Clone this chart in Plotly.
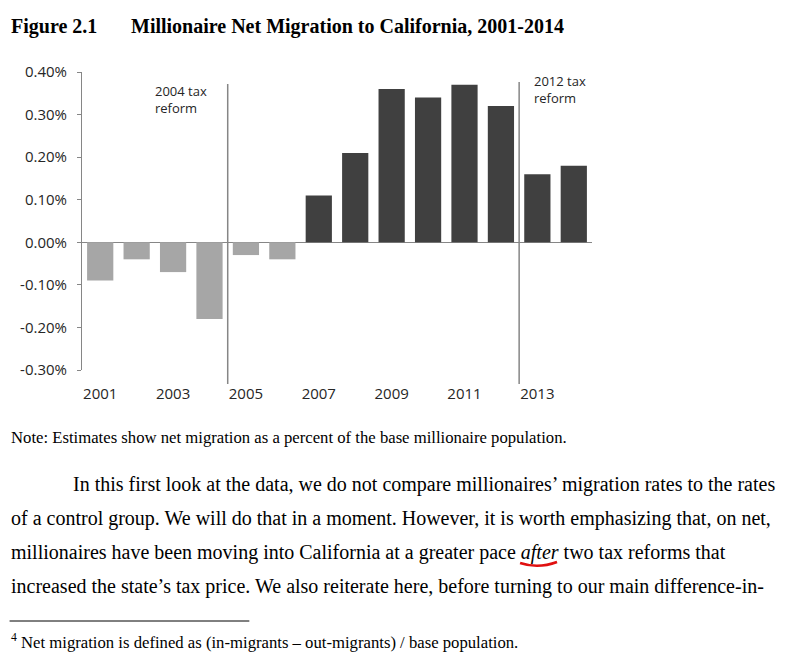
import plotly.graph_objects as go

years = [2001, 2002, 2003, 2004, 2005, 2006, 2007, 2008, 2009, 2010, 2011, 2012, 2013, 2014]
net_migration = [-0.0009, -0.0004, -0.0007, -0.0018, -0.0003, -0.0004, 0.0011, 0.0021,
                 0.0036, 0.0034, 0.0037, 0.0032, 0.0016, 0.0018]
tick_years = [2001, 2003, 2005, 2007, 2009, 2011, 2013]
y_ticks = [0.004, 0.003, 0.002, 0.001, 0.0, -0.001, -0.002, -0.003]
reform_years = [2004, 2012]
reform_labels = ["2004 tax<br>reform", "2012 tax<br>reform"]

title_fig = "Figure 2.1"
title_text = "Millionaire Net Migration to California, 2001-2014"
note_text = "Note: Estimates show net migration as a percent of the base millionaire population."
body_lines = [
    "In this first look at the data, we do not compare millionaires\u2019 migration rates to the rates",
    "of a control group. We will do that in a moment. However, it is worth emphasizing that, on net,",
    "millionaires have been moving into California at a greater pace <i>after</i> two tax reforms that",
    "increased the state\u2019s tax price. We also reiterate here, before turning to our main difference-in-",
]
footnote_text = "<sup>4</sup> Net migration is defined as (in-migrants \u2013 out-migrants) / base population."

OFF = 8  # page body margin
W, H = 791 - 2 * OFF, 663 - 2 * OFF
PL, PT, PW, PH = 81.5, 72, 510.5, 298   # plot area in page pixels
YMIN, YMAX = -0.003, 0.004
XMIN, XMAX = years[0] - 0.5, years[-1] + 0.5


def px(x):
    return (x - PL) / PW


def py(y):
    return (PT + PH - y) / PH


LIGHT = "#a6a6a6"
DARK = "#404040"
AXIS = "#868686"
CHART_FONT = "Open Sans"
DOC_FONT = "Liberation Serif"
TXT = "#262626"

colors = [LIGHT if v < 0 else DARK for v in net_migration]
ytext = [f"{v * 100:.2f}%" for v in y_ticks]

fig = go.Figure()
fig.add_trace(go.Bar(x=years, y=net_migration, marker=dict(color=colors, line=dict(width=0)),
                     width=0.72, showlegend=False, hoverinfo="skip"))

fig.update_layout(
    width=W, height=H,
    margin=dict(l=PL - OFF, r=W - (PL - OFF) - PW, t=PT - OFF, b=H - (PT - OFF) - PH, pad=0),
    paper_bgcolor="white", plot_bgcolor="white",
    font=dict(family=CHART_FONT, size=15, color=TXT),
    xaxis=dict(range=[XMIN, XMAX], tickvals=tick_years, ticktext=[str(y) for y in tick_years],
               showline=False, showgrid=False, zeroline=False, ticks="outside",
               ticklen=10, tickcolor="rgba(0,0,0,0)", tickfont=dict(size=15)),
    xaxis2=dict(range=[XMIN, XMAX], overlaying="x", anchor="free",
                position=(0 - YMIN) / (YMAX - YMIN),
                tickvals=[y - 0.5 for y in years] + [years[-1] + 0.5],
                showticklabels=False, ticks="outside", ticklen=4, tickcolor=AXIS,
                showline=True, linecolor=AXIS, linewidth=1, showgrid=False, zeroline=False),
    yaxis=dict(range=[YMIN, YMAX], tickvals=y_ticks, ticktext=ytext, showline=True,
               linecolor=AXIS, linewidth=1, ticks="outside", ticklen=4, tickcolor=AXIS,
               ticklabelstandoff=7,
               showgrid=False, zeroline=True, zerolinecolor=AXIS, zerolinewidth=1,
               tickfont=dict(size=15)),
)

# reform lines and labels
label_pos = {2004: (153, 99), 2012: (532, 89)}
line_top = {2004: 84, 2012: 82}
for yr, lab in zip(reform_years, reform_labels):
    xf = (yr + 0.5 - XMIN) / (XMAX - XMIN)
    fig.add_shape(type="line", xref="paper", yref="paper", x0=xf, x1=xf,
                  y0=py(line_top[yr]), y1=py(384), line=dict(color=AXIS, width=1.5))
    lx, ly = label_pos[yr]
    fig.add_annotation(xref="paper", yref="paper", x=px(lx), y=py(ly), text=lab,
                       showarrow=False, xanchor="left", yanchor="middle", align="left",
                       font=dict(family=CHART_FONT, size=13, color=TXT))

# document text
fig.add_annotation(xref="paper", yref="paper", x=px(8), y=py(27), text="<b>" + title_fig + "</b>",
                   showarrow=False, xanchor="left", yanchor="middle",
                   font=dict(family=DOC_FONT, size=20, color="black"))
fig.add_annotation(xref="paper", yref="paper", x=px(129), y=py(27), text="<b>" + title_text + "</b>",
                   showarrow=False, xanchor="left", yanchor="middle",
                   font=dict(family=DOC_FONT, size=20, color="black"))
fig.add_annotation(xref="paper", yref="paper", x=px(8), y=py(437), text=note_text,
                   showarrow=False, xanchor="left", yanchor="middle",
                   font=dict(family=DOC_FONT, size=16.7, color="black"))
body_x = [70, 8, 8, 8]
body_y = [484, 518, 552, 586]
for t, bx, by in zip(body_lines, body_x, body_y):
    fig.add_annotation(xref="paper", yref="paper", x=px(bx), y=py(by), text=t,
                       showarrow=False, xanchor="left", yanchor="middle",
                       font=dict(family=DOC_FONT, size=20, color="black"))
fig.add_annotation(xref="paper", yref="paper", x=px(8), y=py(641), text=footnote_text,
                   showarrow=False, xanchor="left", yanchor="middle",
                   font=dict(family=DOC_FONT, size=16.7, color="black"))
# footnote rule
fig.add_shape(type="line", xref="paper", yref="paper", x0=px(9), x1=px(249), y0=py(621), y1=py(621),
              line=dict(color="black", width=1))
# red handwritten underline
p = lambda a, b: f"{px(a)},{py(b)}"
fig.add_shape(type="path", xref="paper", yref="paper",
              path=f"M {p(520, 563)} Q {p(538, 569)} {p(557, 562)}",
              line=dict(color="#e01010", width=2.5))

fig.write_html("out.html")
